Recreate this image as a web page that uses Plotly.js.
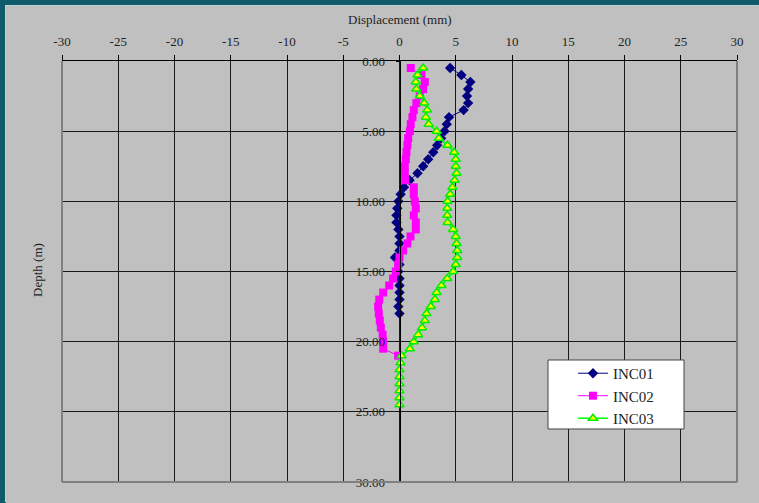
<!DOCTYPE html>
<html>
<head>
<meta charset="utf-8">
<script src="https://cdn.plot.ly/plotly-3.0.1.min.js"></script>
<style>
  html, body { margin: 0; padding: 0; width: 759px; height: 503px; overflow: hidden; background: #0f5b69; }
  #chart { position: absolute; left: 6px; top: 6px; width: 754px; height: 497px; box-shadow: -1px -1px 0 #b9d6da; }
</style>
</head>
<body>
<div id="chart"></div>
<script>
// Depth (m) and displacement (mm) readings
const depth01 = [0.5,1,1.5,2,2.5,3,3.5,4,4.5,5,5.5,6,6.5,7,7.5,8,8.5,9,9.5,10,10.5,11,11.5,12,12.5,13,13.5,14,14.5,15,15.5,16,16.5,17,17.5,18];
const inc01 = [4.5,5.5,6.3,6.1,6.0,6.1,5.7,4.4,4.2,4.0,3.7,3.35,3.0,2.55,2.1,1.6,0.9,0.4,0.1,-0.1,-0.2,-0.27,-0.27,-0.1,0.0,0.0,0.0,-0.4,0.0,-0.1,0.0,0.0,0.0,0.0,-0.1,0.0];

const depth02 = [0.5,1,1.5,2,2.5,3,3.5,4,4.5,5,5.5,6,6.5,7,7.5,8,8.5,9,9.5,10,10.5,11,11.5,12,12.5,13,13.5,14,14.5,15,15.5,16,16.5,17,17.5,18,18.5,19,19.5,20,20.5,21];
const inc02 = [1.0,1.95,2.25,2.1,1.8,1.5,1.27,1.15,1.0,0.92,0.77,0.7,0.62,0.56,0.47,0.47,0.5,1.27,1.27,1.36,1.45,1.27,1.45,1.45,0.98,0.7,0.32,0.0,-0.12,-0.33,-0.57,-0.92,-1.45,-1.8,-1.9,-1.84,-1.75,-1.66,-1.5,-1.45,-1.45,-0.12];

const depth03 = [0.5,1,1.5,2,2.5,3,3.5,4,4.5,5,5.5,6,6.5,7,7.5,8,8.5,9,9.5,10,10.5,11,11.5,12,12.5,13,13.5,14,14.5,15,15.5,16,16.5,17,17.5,18,18.5,19,19.5,20,20.5,21,21.5,22,22.5,23,23.5,24,24.5];
const inc03 = [2.1,1.6,1.45,1.5,1.8,2.2,2.46,2.34,2.6,3.3,3.5,4.27,4.86,5.0,5.0,5.07,4.9,4.7,4.5,4.27,4.24,4.24,4.27,4.77,5.0,5.07,5.13,5.13,5.0,4.77,4.24,3.73,3.3,3.14,2.78,2.4,2.25,2.0,1.66,1.27,0.92,0.18,0.09,0,0,0,0,0,0];

const seriesNames = ['INC01','INC02','INC03'];
const xTicks = [-30,-25,-20,-15,-10,-5,0,5,10,15,20,25,30];
const yTicks = [0,5,10,15,20,25,30];

const FONT = 'Liberation Serif, Times New Roman, serif';

const traces = [
  {
    x: inc01, y: depth01, name: seriesNames[0], type: 'scatter', mode: 'lines+markers',
    line: {color: '#000080', width: 1},
    marker: {symbol: 'diamond', size: 8, color: '#000080', line: {color: '#000080', width: 0}}
  },
  {
    x: inc02, y: depth02, name: seriesNames[1], type: 'scatter', mode: 'lines+markers',
    line: {color: '#ff00ff', width: 1},
    marker: {symbol: 'square', size: 8, color: '#ff00ff', line: {color: '#ff00ff', width: 0}}
  },
  {
    x: inc03, y: depth03, name: seriesNames[2], type: 'scatter', mode: 'lines+markers',
    line: {color: '#00ff00', width: 1.5},
    marker: {symbol: 'triangle-up', size: 8, color: '#ffff00', line: {color: '#00ee00', width: 1.5}}
  }
];

const layout = {
  width: 754, height: 497,
  margin: {l: 56, r: 23, t: 55, b: 21, pad: 0},
  paper_bgcolor: '#c0c0c0',
  plot_bgcolor: '#c0c0c0',
  font: {family: FONT, size: 13, color: '#222'},
  showlegend: true,
  legend: {
    x: 0.757, y: 0.297, xanchor: 'left', yanchor: 'top',
    bgcolor: 'rgba(0,0,0,0)', borderwidth: 0,
    font: {family: FONT, size: 15, color: '#222'}
  },
  xaxis: {
    side: 'top', range: [-30, 30], tickvals: xTicks, ticktext: xTicks.map(String),
    showgrid: true, gridcolor: '#1a1a1a', gridwidth: 1,
    showline: true, linecolor: '#000', linewidth: 1.5,
    ticks: 'outside', ticklen: 5, tickcolor: '#000',
    ticklabelstandoff: 3,
    zeroline: false, fixedrange: true
  },
  yaxis: {
    range: [30, 0], tickvals: yTicks, ticktext: yTicks.map(v => v.toFixed(2)),
    anchor: 'free', position: 0.5, side: 'left',
    showgrid: true, gridcolor: '#1a1a1a', gridwidth: 1,
    showline: true, linecolor: '#000', linewidth: 1.5,
    ticks: 'outside', ticklen: 4, tickcolor: '#000',
    ticklabelstandoff: 8,
    zeroline: false, fixedrange: true
  },
  shapes: [
    {type: 'line', xref: 'paper', yref: 'paper', x0: 0, x1: 0, y0: 0, y1: 1, line: {color: '#808080', width: 2}},
    {type: 'line', xref: 'paper', yref: 'paper', x0: 1, x1: 1, y0: 0, y1: 1, line: {color: '#808080', width: 2}},
    {type: 'line', xref: 'paper', yref: 'paper', x0: 0, x1: 1, y0: 0, y1: 0, line: {color: '#808080', width: 2}},
    {type: 'rect', xref: 'paper', yref: 'paper', x0: 0.72, x1: 0.9215, y0: 0.1259, y1: 0.2898,
     fillcolor: '#ffffff', line: {color: '#444', width: 1}, layer: 'above'}
  ],
  annotations: [
    {text: 'Displacement (mm)', xref: 'paper', yref: 'paper', x: 0.5, y: 1, yshift: 42,
     xanchor: 'center', yanchor: 'middle', showarrow: false,
     font: {family: FONT, size: 13, color: '#222'}},
    {text: 'Depth (m)', xref: 'paper', yref: 'paper', x: -0.0356, y: 0.5036,
     xanchor: 'center', yanchor: 'middle', showarrow: false, textangle: -90,
     font: {family: FONT, size: 13, color: '#222'}}
  ]
};

Plotly.newPlot('chart', traces, layout, {displayModeBar: false, staticPlot: true});
</script>
</body>
</html>
